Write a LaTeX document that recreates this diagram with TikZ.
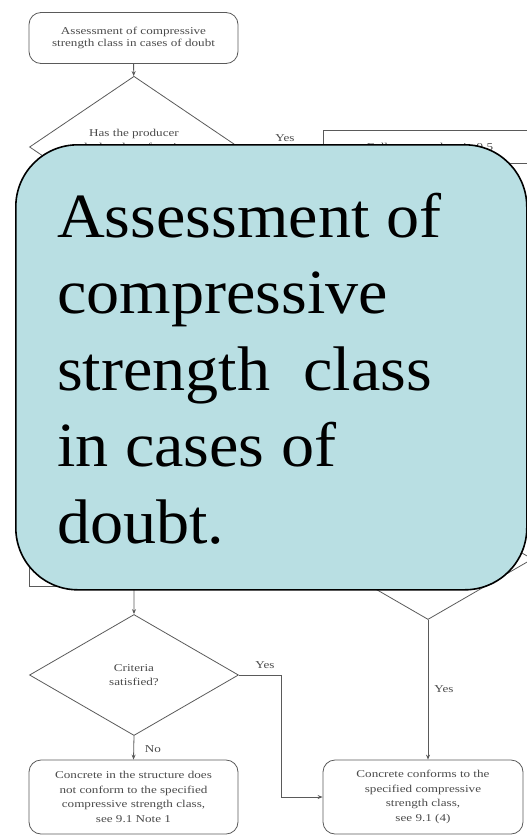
\documentclass[tikz,border=0pt]{standalone}
\usepackage{fontspec}
\setmainfont{Liberation Serif}
\newfontfamily\bigserif[FakeStretch=1.05]{Liberation Serif}
\newfontfamily\smallserif[FakeStretch=1.25]{Liberation Serif}
\usetikzlibrary{shapes.geometric,arrows.meta}
\definecolor{overlayfill}{HTML}{B9DFE3}
\definecolor{flowgray}{HTML}{5A5A5A}
\definecolor{flowtextc}{HTML}{4A4A4A}
\begin{document}
\begin{tikzpicture}[x=1pt,y=-1pt,
  flowtext/.style={inner sep=0pt, align=center, text=flowtextc, font=\smallserif\fontsize{10.5}{14}\selectfont},
  roundbox/.style={flowtext, draw=flowgray, line width=0.8pt, rounded corners=12pt},
  plainbox/.style={draw=flowgray, line width=0.8pt, inner sep=0pt},
  decision/.style={flowtext, diamond, draw=flowgray, line width=0.8pt, minimum width=209pt, minimum height=121pt},
  flowline/.style={draw=flowgray, line width=0.8pt},
  flowarrow/.style={flowline, -{Stealth[length=5pt,width=4pt]}},
  overlaybox/.style={draw=black, line width=1.6pt, fill=overlayfill, rounded corners=62pt, inner sep=0pt},
  bigtext/.style={inner sep=0pt, anchor=base west, font=\bigserif\fontsize{63}{76}\selectfont}
]
\useasboundingbox (0,0) rectangle (527,835);

% background flowchart
\node[roundbox, minimum width=209pt, minimum height=51pt, font=\smallserif\fontsize{10.5}{12}\selectfont] (start) at (133.5,38) {Assessment of compressive\\strength class in cases of doubt};
\node[decision] (q1) at (134,147) {Has the producer\\declared conformity\\of the concrete?};
\node[plainbox, minimum width=240pt, minimum height=33pt, anchor=north west] (r1) at (323,130) {};
\node[flowtext] (r1t) at (430,148) {Follow procedure in 9.5};
\node[plainbox, minimum width=209pt, minimum height=60pt, anchor=south west] (rL) at (29,587) {};
\node[decision] (q3) at (428,559) {};
\node[decision] (q2) at (134,675) {Criteria\\satisfied?};
\node[roundbox, minimum width=209pt, minimum height=74pt, font=\smallserif\fontsize{10.5}{14.5}\selectfont] (bl) at (133.5,797) {Concrete in the structure does\\not conform to the specified\\compressive strength class,\\see 9.1 Note 1};
\node[roundbox, minimum width=200pt, minimum height=74pt, font=\smallserif\fontsize{10.5}{14.5}\selectfont] (br) at (423,797) {Concrete conforms to the\\specified compressive\\strength class,\\see 9.1 (4)};
\coordinate (c1) at (281,675);

\draw[flowarrow] (start) -- (q1);
\draw[flowline] (q1.east) -- (r1.west);
\draw[flowline] (q1.south) -- (rL.north);
\draw[flowarrow] (rL.south) -- (q2.north);
\draw[flowarrow] (q2.east) -- (c1) |- (br.west);
\draw[flowarrow] (q2.south) -- (bl.north);
\draw[flowarrow] (q3.south) -- (q3.south |- br.north);

\node[flowtext] (y1) at (285,138) {Yes};
\node[flowtext] (y2) at (265,665) {Yes};
\node[flowtext] (n2) at (153,749) {No};
\node[flowtext] (y3) at (444,689) {Yes};

% overlay
\node[overlaybox, minimum width=511pt, minimum height=445pt, anchor=north west] (ov) at (15,144) {};
\node[bigtext] (t1) at (57,237) {Assessment of};
\node[bigtext] (t2) at (57,313.5) {compressive};
\node[bigtext] (t3) at (57,390) {strength~ class};
\node[bigtext] (t4) at (57,466.5) {in cases of};
\node[bigtext] (t5) at (57,543) {doubt.};
\end{tikzpicture}
\end{document}
